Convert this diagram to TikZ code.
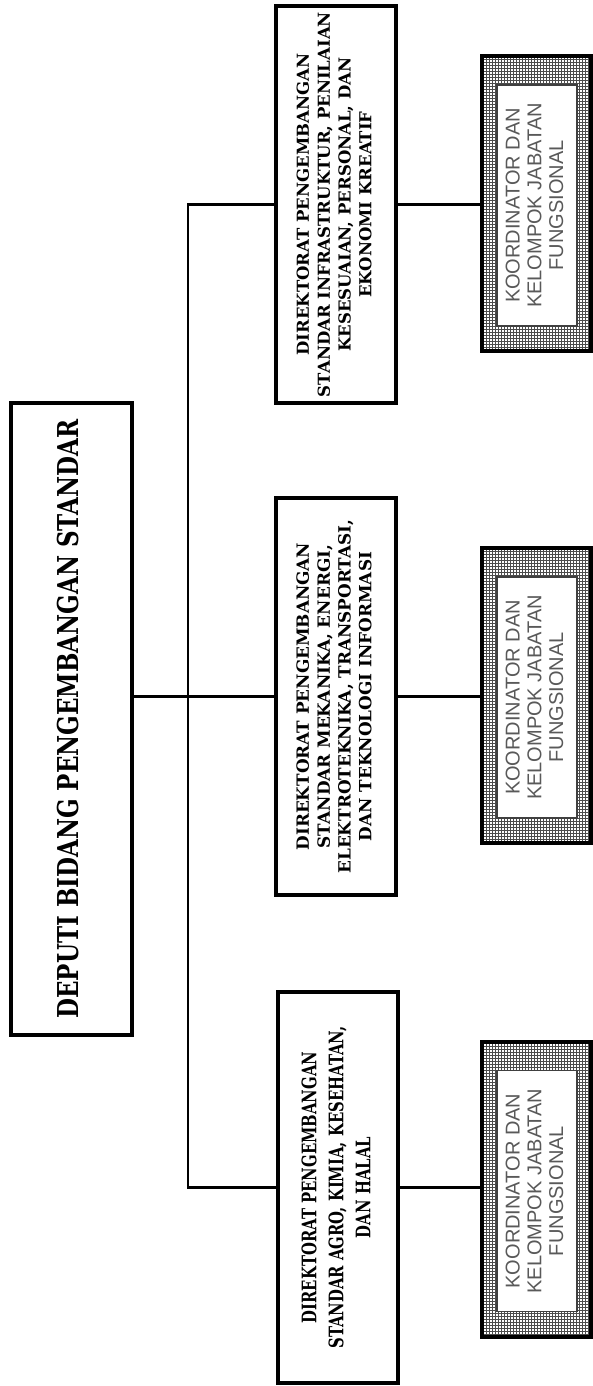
\documentclass[tikz,border=0pt]{standalone}
\usepackage{fontspec}
\setmainfont{DejaVu Serif}
\newfontfamily\koordfont{Liberation Sans}
\usepackage{graphicx}
\usetikzlibrary{patterns.meta}

\tikzdeclarepattern{
  name=kisi,
  type=uncolored,
  bottom left={(0pt,0pt)},
  top right={(1.8pt,1.8pt)},
  tile size={(1.8pt,1.8pt)},
  code={\draw[line width=.5pt] (0pt,.9pt) -- (1.8pt,.9pt) (.9pt,0pt) -- (.9pt,1.8pt);}
}

% rotated text: size, skip, stretch, lines
\newcommand\teks[4]{\rotatebox{90}{\scalebox{1}[#3]{\fontsize{#1}{#2}\selectfont
  \begin{tabular}{@{}c@{}}#4\end{tabular}}}}

\begin{document}
\begin{tikzpicture}[x=.6pt,y=-.6pt,
  kotak/.style={draw,line width=2pt,inner sep=0pt,font=\bfseries},
  garis/.style={line width=1.6pt},
  luar/.style={draw,line width=2.4pt,pattern=kisi,pattern color=black!70,
    minimum width=65.4pt,minimum height=177pt},
  dalam/.style={draw=black!75,line width=.8pt,fill=white,inner sep=0pt,
    minimum width=48pt,minimum height=144.6pt,text=black!65,font=\koordfont}]
\useasboundingbox (0,0) rectangle (593,1386);

\node[kotak,minimum width=72.6pt,minimum height=379.2pt] (deputi) at (71.5,719)
  {\teks{13.8}{16}{1.25}{DEPUTI BIDANG PENGEMBANGAN STANDAR}};

\node[kotak,minimum width=72pt,minimum height=238.2pt] (dir1) at (336,204.5)
  {\teks{9.9}{12.5}{1}{DIREKTORAT PENGEMBANGAN\\STANDAR INFRASTRUKTUR, PENILAIAN\\
   KESESUAIAN, PERSONAL, DAN\\EKONOMI KREATIF}};
\node[kotak,minimum width=72pt,minimum height=238.2pt] (dir2) at (336,696.5)
  {\teks{10.1}{12.5}{1}{DIREKTORAT PENGEMBANGAN\\STANDAR MEKANIKA, ENERGI,\\
   ELEKTROTEKNIKA, TRANSPORTASI,\\DAN TEKNOLOGI INFORMASI}};
\node[kotak,minimum width=72pt,minimum height=234.6pt] (dir3) at (338,1187.5)
  {\teks{8.9}{12}{1.35}{DIREKTORAT PENGEMBANGAN\\STANDAR AGRO, KIMIA, KESEHATAN,\\DAN HALAL}};

% garis penghubung
\coordinate (cabang) at (188,697);
\draw[garis] (deputi.east |- dir2.west) -- (dir2.west);
\draw[garis] (dir1.west) -| (cabang) |- (dir3.west);

\foreach \n/\y in {1/203.5,2/695.5,3/1189}{
  \node[luar] (luar\n) at (536.5,\y) {};
  \node[dalam] (koord\n) at (537,\y+2)
    {\teks{12}{13}{1}{KOORDINATOR DAN\\KELOMPOK JABATAN\\FUNGSIONAL}};
  \draw[garis] (dir\n.east) -- (dir\n.east -| luar\n.west);
}
\end{tikzpicture}
\end{document}
